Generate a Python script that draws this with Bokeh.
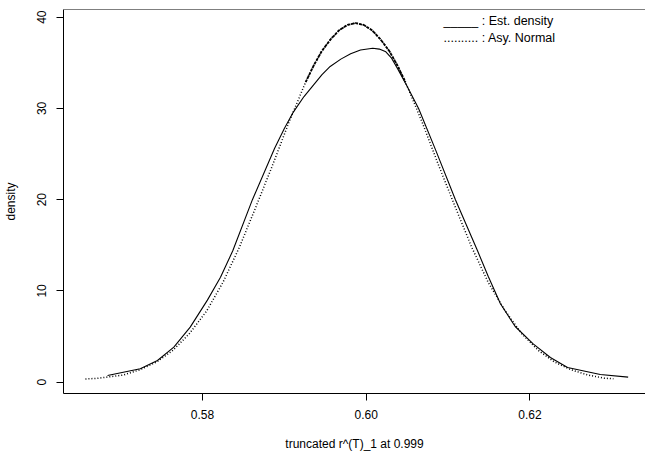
import numpy as np
from bokeh.plotting import figure
from bokeh.models import Range1d, FixedTicker, Span, Label
from bokeh.embed import file_html
from bokeh.resources import INLINE

# ---- data ----
# estimated density (solid line)
est_x = [0.5684, 0.5724, 0.5745, 0.5765, 0.5785, 0.5806, 0.5822, 0.5837, 0.5861, 0.5888,
         0.5900, 0.5911, 0.5924, 0.5936, 0.5946, 0.5956, 0.5969, 0.5981, 0.5993, 0.6008,
         0.6016, 0.6024, 0.6031, 0.6038, 0.6049, 0.6064, 0.6085, 0.6109, 0.6136, 0.6149,
         0.6164, 0.6182, 0.6204, 0.6225, 0.6246, 0.6286, 0.6320]
est_y = [0.73, 1.47, 2.38, 3.84, 6.03, 8.99, 11.5, 14.4, 20.0, 25.6,
         27.8, 29.6, 31.3, 32.6, 33.7, 34.6, 35.4, 36.0, 36.4, 36.6,
         36.5, 36.2, 35.5, 34.4, 32.6, 30.0, 25.4, 20.0, 14.4, 11.6,
         8.6, 6.1, 4.2, 2.7, 1.6, 0.84, 0.55]

# asymptotic normal (dotted)
asy_x = [0.5657, 0.5671, 0.5703, 0.5723, 0.5744, 0.5764, 0.5784, 0.5805, 0.5825, 0.5845,
         0.5865, 0.5886, 0.5906, 0.5926, 0.5936, 0.5946, 0.5957, 0.5967, 0.5977, 0.5987,
         0.5997, 0.6007, 0.6017, 0.6028, 0.6038, 0.6048, 0.6068, 0.6088, 0.6109, 0.6129,
         0.6149, 0.6170, 0.6190, 0.6210, 0.6230, 0.6251, 0.6271, 0.6291, 0.6302]
asy_y = [0.35, 0.42, 0.78, 1.34, 2.21, 3.50, 5.32, 7.79, 10.94, 14.77,
         19.15, 23.87, 28.57, 32.87, 34.73, 36.32, 37.62, 38.57, 39.15, 39.35,
         39.15, 38.57, 37.62, 36.32, 34.73, 32.87, 28.57, 23.87, 19.15, 14.77,
         10.94, 7.79, 5.32, 3.50, 2.21, 1.34, 0.78, 0.44, 0.38]

x_ticks = [0.58, 0.60, 0.62]
x_tick_labels = ["0.58", "0.60", "0.62"]
y_ticks = [0, 10, 20, 30, 40]
y_tick_labels = ["0", "10", "20", "30", "40"]
x_label = "truncated r^(T)_1 at 0.999"
y_label = "density"
legend_lines = ["_____ : Est. density", ".......... : Asy. Normal"]

FONT = "Liberation Sans"

p = figure(width=645, height=454, output_backend="svg", toolbar_location=None,
           x_range=Range1d(0.56302, 0.63412), y_range=Range1d(-1.24, 40.84),
           min_border_left=63, min_border_top=9, min_border_right=0, min_border_bottom=61,
           background_fill_color="white", border_fill_color="white")
p.outline_line_color = None
p.grid.visible = False

for ax in (p.xaxis[0], p.yaxis[0]):
    ax.axis_line_color = "black"
    ax.axis_line_width = 1
    ax.major_tick_line_color = "black"
    ax.major_tick_out = 7
    ax.major_tick_in = 0
    ax.minor_tick_line_color = None
    ax.major_label_text_font = FONT
    ax.major_label_text_font_size = "12px"
    ax.major_label_text_color = "black"
    ax.axis_label_text_font = FONT
    ax.axis_label_text_font_size = "12px"
    ax.axis_label_text_font_style = "normal"
    ax.axis_label_text_color = "black"

p.xaxis.ticker = FixedTicker(ticks=x_ticks)
p.xaxis.major_label_overrides = {t: l for t, l in zip(x_ticks, x_tick_labels)}
p.xaxis.axis_label = x_label
p.xaxis.major_label_standoff = 9
p.xaxis.axis_label_standoff = 15

p.yaxis.ticker = FixedTicker(ticks=y_ticks)
p.yaxis.major_label_overrides = {t: l for t, l in zip(y_ticks, y_tick_labels)}
p.yaxis.axis_label = y_label
p.yaxis.major_label_orientation = "vertical"
p.yaxis.major_label_standoff = 10
p.yaxis.axis_label_standoff = 17

# top border of the box
p.add_layout(Span(location=p.y_range.end, dimension="width", line_color="black", line_width=1))

# estimated density
p.line(est_x, est_y, line_color="black", line_width=1.1)

# asymptotic normal (dotted points)
ax_arr = np.array(asy_x)
ay_arr = np.array(asy_y)
p.line(ax_arr, ay_arr, line_color="black", line_width=1.5, line_dash="1 2")
top = ay_arr > 31
p.line(ax_arr[top], ay_arr[top], line_color="black", line_width=1.8, line_dash="3 1")

# legend text
for i, txt in enumerate(legend_lines):
    p.add_layout(Label(x=380, y=373 - 17.5 * i, x_units="screen", y_units="screen",
                       text=txt, text_font=FONT, text_font_size="12.5px",
                       text_baseline="middle", text_color="black"))

open("out.html", "w").write(file_html(p, INLINE))
